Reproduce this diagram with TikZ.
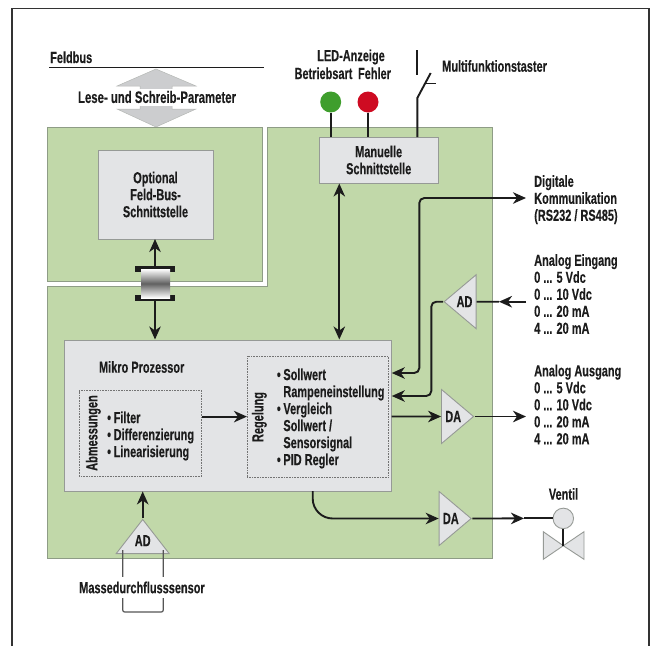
\documentclass[tikz,border=0pt]{standalone}
\usepackage{amsmath}
\usepackage{fontspec}
\setmainfont{Liberation Sans}[FakeStretch=0.685,BoldFont={Liberation Sans Bold},BoldFeatures={FakeBold=0.25}]
\usetikzlibrary{arrows.meta,shapes.geometric}
\definecolor{gruen}{HTML}{C1D8A9}
\definecolor{gruenrand}{HTML}{8E9C86}
\definecolor{hellgrau}{HTML}{E3E4E6}
\definecolor{randgrau}{HTML}{969A96}
\definecolor{schwarz}{HTML}{1C1C1C}
\definecolor{ledgruen}{HTML}{3F9E2D}
\definecolor{ledrot}{HTML}{CE0B22}
\newcommand{\einzug}{\phantom{•\,}}

\begin{document}
\begin{tikzpicture}[x=1pt,y=-1pt,>={Stealth[length=13pt,width=11.5pt,inset=4pt]},
  every node/.style={font=\fontsize{16}{17}\selectfont\bfseries,text=schwarz,inner sep=0pt}]
\tikzstyle{block} = [draw=randgrau,fill=hellgrau,line width=0.9pt]
\tikzstyle{gebiet} = [draw=gruenrand,fill=gruen,line width=0.8pt]
\tikzstyle{gestrichelt} = [draw=black!55,densely dotted,line width=0.6pt]
\tikzstyle{pfeil} = [draw=schwarz,line width=1.9pt]
\tikzstyle{tri} = [isosceles triangle,isosceles triangle stretches,draw=randgrau,fill=hellgrau,line width=0.9pt]
\tikzstyle{treiber} = [tri,shape border rotate=0,minimum height=32pt,minimum width=54pt,anchor=apex]
\tikzstyle{led} = [circle,minimum size=21pt]
\tikzstyle{stecker} = [fill=schwarz,minimum width=40pt,minimum height=6pt]
\tikzstyle{liste} = [align=left,anchor=north west]
\useasboundingbox (0,0) rectangle (654,646);

% Rahmen
\draw[draw=black!80,line width=1.2pt] (12,646) -- (12,8.5) -- (649,8.5) -- (649,646);

% Feldbus
\node[anchor=base west] (feldbus) at (50,63) {Feldbus};
\draw[pfeil,line width=1.5pt] (49,67.5) -- (264,67.5);
\draw[draw=randgrau!70,fill=hellgrau!90!black,line width=0.5pt] (156,69) -- (196,86) -- (172,86) -- (172,109) -- (196,109)
  -- (156,127) -- (117,109) -- (140,109) -- (140,86) -- (117,86) -- cycle;
\node[fill=white,minimum width=168pt,minimum height=17pt,font=\fontsize{16.6}{17}\selectfont\bfseries] (parameter) at (157,97) {Lese- und Schreib-Parameter};

% gruene Flaechen
\draw[gebiet] (47,127) rectangle (262.5,281.5);
\draw[gebiet] (267,127) -- (492,127) -- (492,558) -- (47,558) -- (47,286) -- (267,286) -- cycle;

% Bloecke
\node[block,minimum width=115pt,minimum height=89pt,align=center] (optional) at (155.5,194.5) {Optional\\Feld-Bus-\\Schnittstelle};
\node[block,minimum width=119.5pt,minimum height=46pt,align=center] (manuelle) at (378.7,160) {Manuelle\\Schnittstelle};
\node[block,minimum width=327.5pt,minimum height=151pt] (mikro) at (227.7,415.5) {};
\node (mikrotext) at (141.7,367) {Mikro Prozessor};

% Abmessungen
\node[gestrichelt,minimum width=122.4pt,minimum height=85.3pt] (abmessungen) at (140.5,433.3) {};
\node[rotate=90] (abmtext) at (93.3,433) {Abmessungen};
\node[liste,anchor=west] (abmliste) at (107,436) {•\,Filter\\•\,Differenzierung\\•\,Linearisierung};

% Regelung
\node[gestrichelt,minimum width=140.7pt,minimum height=121.3pt] (regelung) at (317.6,416.6) {};
\node[rotate=90] (regtext) at (259.3,417) {Regelung};
\node[liste,anchor=west] (regliste) at (276.7,418.5) {•\,Sollwert\\\einzug Rampeneinstellung\\•\,Vergleich\\\einzug Sollwert /\\\einzug Sensorsignal\\•\,PID Regler};

% Stecker
\coordinate (optunten) at (155,239);
\coordinate (mikrooben) at (155,339.5);
\node[stecker] (steckeroben) at (155,269) {};
\node[stecker] (steckerunten) at (155,298) {};
\node[minimum width=29pt,minimum height=29pt,top color=white,bottom color=white,middle color=black!62] (zylinder) at (155.5,283.5) {};
\draw[pfeil,->] (steckeroben.north) -- (optunten);
\draw[pfeil,->] (steckerunten.south) -- (mikrooben);

% LED und Taster
\node[align=center] (ledtext) at (351,57) {LED-Anzeige};
\node[anchor=base] (betriebsart) at (323.5,79) {Betriebsart};
\node[anchor=base] (fehler) at (374.5,79) {Fehler};
\node[led,fill=ledgruen] (ledg) at (330.7,102) {};
\node[led,fill=ledrot] (ledr) at (368,102) {};
\coordinate (ledgunten) at (ledg |- manuelle.north);
\coordinate (ledrunten) at (ledr |- manuelle.north);
\draw[pfeil] (ledg) -- (ledgunten);
\draw[pfeil] (ledr) -- (ledrunten);
\node[anchor=west] (taster) at (442,66) {Multifunktionstaster};
\coordinate (tasterunten) at (417.3,137);
\coordinate (tasterknick) at (417.3,98);
\coordinate (tasterende) at (430.7,73);
\draw[pfeil] (417.3,50) -- (417.3,75);
\draw[pfeil] (tasterunten) -- (tasterknick) -- (tasterende);
\draw[pfeil,line width=1.3pt] (425,83.5) -- (435.5,83.5);

% Manuelle - Mikro
\coordinate (mano) at (339.3,183.5);
\coordinate (manu) at (339.3,339.5);
\draw[pfeil,<->] (mano) -- (manu);

% Digitale Kommunikation
\node[liste] (digital) at (534,175) {Digitale\\Kommunikation\\(RS232 / RS485)};
\coordinate (digende) at (526,198);
\coordinate (digein) at (391.8,373);
\draw[pfeil,<->,rounded corners=5pt] (digein) -- (419.3,373) -- (419.3,198) -- (digende);

% Analog Eingang
\node[liste] (eingang) at (534,254) {Analog Eingang\\0 ... 5 Vdc\\0 ... 10 Vdc\\0 ... 20 mA\\4 ... 20 mA};
\node[tri,shape border rotate=180,minimum height=32pt,minimum width=54pt,anchor=apex] (adrechts) at (443,301.7) {AD};
\coordinate (adquelle) at (526,301.7);
\coordinate (admitte) at (499,301.7);
\coordinate (adein) at (391.8,396);
\draw[pfeil,->] (adquelle) -- (admitte);
\draw[pfeil] (admitte) -- (adrechts.east);
\draw[pfeil,->,rounded corners=5pt] (adrechts.apex) -- (431.3,301.7) -- (431.3,396) -- (adein);

% Analog Ausgang
\node[liste] (ausgang) at (534,364.5) {Analog Ausgang\\0 ... 5 Vdc\\0 ... 10 Vdc\\0 ... 20 mA\\4 ... 20 mA};
\node[treiber] (daeins) at (474.7,416.5) {DA};
\coordinate (daab) at (391.5,416.5);
\coordinate (ausende) at (526,416.5);
\draw[pfeil,->] (daab) -- (daeins.west);
\draw[pfeil,->] (daeins.apex) -- (ausende);

% Abmessungen - Regelung
\draw[pfeil,->] (abmessungen.east |- regelung.west) -- (regelung.west);

% Ventil
\node[treiber] (dazwei) at (472.3,518.5) {DA};
\coordinate (mikrounten) at (312.7,491);
\draw[pfeil,->,rounded corners=20pt] (mikrounten) -- (312.7,518.5) -- (dazwei.west);
\node (ventiltext) at (563.5,494) {Ventil};
\node[circle,draw=randgrau,fill=hellgrau,line width=0.9pt,minimum size=20.5pt] (ventil) at (563.3,518.4) {};
\coordinate (ventilmitte) at (524,518.4);
\coordinate (ventilfuss) at (563.3,545.7);
\draw[pfeil,->] (dazwei.apex) -- (ventilmitte);
\draw[pfeil] (ventilmitte) -- (ventil.west);
\draw[block] (ventilfuss) -- (543.3,531.7) -- (543.3,559.3) -- cycle;
\draw[block] (ventilfuss) -- (584,531.7) -- (584,559.3) -- cycle;
\draw[pfeil] (ventil.south) -- (ventilfuss);

% Sensor
\node[tri,shape border rotate=90,minimum height=32pt,minimum width=53pt,anchor=apex] (adunten) at (142.7,518.3) {\raisebox{4pt}{AD}};
\draw[pfeil,->] (adunten.apex) -- (adunten.apex |- mikro.south);
\coordinate (sensorl) at (122.7,550);
\coordinate (sensorr) at (163.3,550);
\draw[draw=schwarz!75,line width=1.2pt,rounded corners=2pt] (sensorl) -- (122.7,612) -- (163.3,612) -- (sensorr);
\node[fill=white,minimum width=132pt,minimum height=21pt] (sensor) at (142,587.5) {Massedurchflusssensor};

\end{tikzpicture}
\end{document}
